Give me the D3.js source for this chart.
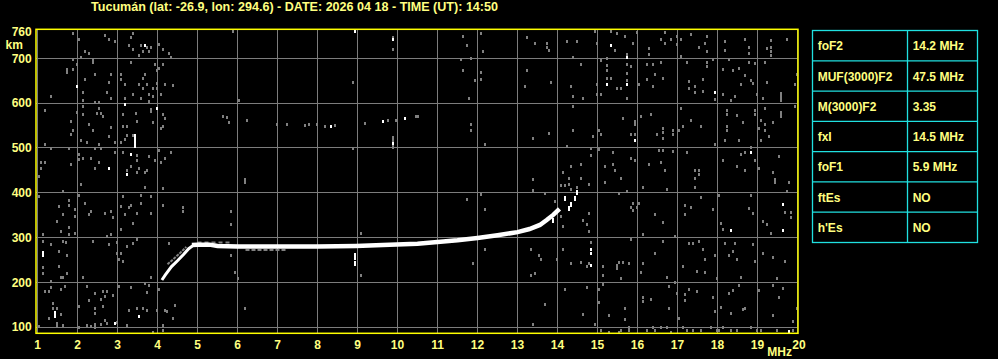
<!DOCTYPE html>
<html><head><meta charset="utf-8">
<script src="https://cdn.jsdelivr.net/npm/d3@7"></script>
<style>html,body{margin:0;padding:0;background:#000;overflow:hidden}svg{display:block}</style>
</head><body><svg id="c" width="998" height="359"></svg>
<script>
// ---------- DATA ----------
const titleText = "Tucumán (lat: -26.9, lon: 294.6) - DATE: 2026 04 18 - TIME (UT): 14:50";
const freqTicks = [1,2,3,4,5,6,7,8,9,10,11,12,13,14,15,16,17,18,19,20];
const heightTicks = [100,200,300,400,500,600,700];
const topHeightLabel = 760;
const freqUnit = "MHz";
const heightUnit = "km";
const freqExtent = [0.9625, 20.0125];
const heightExtent = [86, 765];

const paramNames = ["foF2","MUF(3000)F2","M(3000)F2","fxI","foF1","ftEs","h'Es"];
const paramValues = ["14.2 MHz","47.5 MHz","3.35","14.5 MHz","5.9 MHz","NO","NO"];

// O-trace (white)
const traceRise = [[4.11,205],[4.2,217],[4.35,235],[4.5,248],[4.65,262],[4.78,275],[4.9,283]];
const traceMain = [[4.86,283],[5.0,284],[5.3,284],[5.5,281],[6.0,280],[7.0,280],[8.0,280],[8.96,281],[9.63,283],[10.5,286],[11.0,290],[11.5,294],[12.0,299],[12.5,305],[13.0,312],[13.3,319],[13.56,328],[13.73,339],[13.9,351],[14.05,364]];
const traceDashes = [[13.88,340],[14.18,389],[14.28,366],[14.35,375],[14.43,389],[14.48,402],[8.93,262],[8.93,256],[8.93,243]];
// secondary (grey) echoes
const ghostRise = [[4.25,240],[4.4,252],[4.55,264],[4.72,279]];
const ghostUpper = [[5.0,289],[5.8,289]];
const ghostLower = [[6.2,272],[7.2,272]];

// noise pixels
const noiseGray = [
[1.88,756],[2.03,743],[2.69,752],[2.78,743],[2.94,738],[3.38,756],[3.34,747],[3.28,729],[3.59,729],[3.74,726],[3.84,725],[4.03,732],[4.14,720],[4.29,711],[4.34,703],[3.39,720],[3.54,707],[3.64,716],[3.78,716],[2.19,716],[2.28,711],[2.09,703],[2.38,698],[2.39,692],[1.88,698],[1.98,688],[1.74,677],[1.74,670],[1.88,676],[3.34,692],[3.94,688],[4.14,688],[4.04,679],[3.99,674],[2.19,653],[2.43,665],[2.83,665],[3.08,665],[3.09,655],[3.69,665],[3.64,656],[2.78,647],[3.18,643],[3.54,643],[3.74,643],[3.99,646],[4.18,643],[4.38,640],[2.13,625],[2.73,625],[3.63,634],[3.88,634],[3.98,634],[1.34,616],[2.13,607],[2.44,603],[2.54,603],[2.83,612],[3.38,621],[3.58,612],[3.78,621],[3.78,604],[3.89,616],[4.09,621],[3.18,612],[3.84,587],[1.19,585],[2.13,594],[2.53,590],[2.49,579],[2.58,578],[2.63,572],[1.98,581],[2.13,576],[3.13,576],[3.46,579],[3.83,582],[4.14,576],[4.19,567],[1.83,561],[3.48,561],[3.88,557],[2.29,554],[2.39,539],[2.83,546],[3.13,549],[3.23,549],[4.13,549],[4.08,545],[1.88,540],[1.83,532],[2.78,527],[2.93,514],[3.08,514],[3.18,520],[3.23,530],[3.38,529],[2.08,518],[2.23,514],[2.53,508],[2.43,500],[2.58,500],[1.18,509],[1.33,500],[1.78,500],[2.93,491],[3.13,491],[3.48,484],[3.48,474],[3.78,482],[3.93,474],[4.08,469],[4.18,478],[4.33,490],[4.04,496],[2.03,487],[2.03,475],[2.13,478],[2.33,478],[2.53,469],[2.43,456],[3.23,450],[3.33,460],[3.53,456],[3.68,447],[3.73,451],[3.48,447],[1.08,468],[1.18,469],[1.08,456],[1.83,465],[1.03,438],[6.03,607],[5.63,572],[5.73,569],[5.78,558],[6.23,563],[5.88,761],[6.98,554],[7.23,554],[7.68,551],[7.78,554],[7.98,554],[8.18,549],[8.43,551],[8.88,648],[9.18,555],[9.76,563],[9.96,563],[10.46,572],[9.88,747],[9.89,720],[8.88,500],[6.18,430],
[11.63,750],[11.73,729],[12.08,756],[12.13,716],[11.83,701],[11.58,698],[11.63,674],[12.08,670],[12.08,653],[11.93,652],[11.78,612],[13.23,747],[13.43,734],[13.73,734],[13.73,725],[13.78,719],[13.23,674],[13.18,639],[13.83,648],[14.23,738],[14.48,738],[14.38,703],[14.58,688],[14.33,639],[14.38,616],[14.63,612],[14.93,761],[14.98,734],[15.33,761],[15.48,756],[15.68,750],[15.43,719],[15.23,701],[15.08,697],[15.23,686],[15.23,674],[15.23,656],[15.33,656],[15.48,634],[15.58,634],[14.98,643],[14.98,621],[15.08,621],[15.73,709],[15.73,688],[15.73,668],[15.73,652],[15.83,683],[15.88,734],[15.98,759],[16.03,643],[15.73,612],[16.28,723],[16.28,709],[16.23,688],[16.38,688],[16.43,665],[16.23,653],[16.38,639],[16.63,656],[16.58,692],[16.58,743],[16.68,759],[16.68,734],[16.83,743],[16.98,750],[16.98,732],[17.08,743],[17.08,706],[17.33,755],[17.23,692],[17.28,649],[17.43,639],[17.43,625],[17.28,634],[17.63,653],[17.63,628],[17.53,725],[17.68,734],[17.73,750],[17.73,716],[17.73,692],[17.73,683],[17.88,698],[17.93,609],[18.13,676],[18.13,621],[18.18,738],[18.18,719],[18.28,698],[18.33,607],[18.38,674],[18.43,616],[18.53,679],[18.58,643],[18.68,743],[18.68,662],[18.78,726],[18.78,711],[18.78,692],[18.83,652],[18.88,646],[18.93,689],[18.98,621],[19.13,612],[19.18,692],[19.23,648],[19.23,723],[19.33,741],[19.33,725],[19.33,716],[19.33,707],[19.73,743],[19.93,643],[19.98,665],
[10.51,572],[11.83,554],[11.83,540],[12.18,509],[13.38,523],[13.78,533],[14.38,594],[14.38,540],[14.88,527],[15.03,540],[15.08,532],[15.63,567],[15.93,532],[15.83,532],[16.08,572],[16.33,576],[16.63,545],[16.63,536],[16.48,532],[16.63,523],[16.88,540],[16.88,532],[17.03,540],[17.08,590],[17.13,549],[17.33,563],[17.58,549],[18.23,585],[18.23,576],[18.48,573],[18.23,549],[18.23,540],[18.63,558],[18.93,585],[18.93,576],[19.03,545],[19.08,563],[19.18,590],[19.18,554],[19.18,540],[19.28,527],[19.38,558],[19.93,594],[17.93,509],[18.18,518],[18.53,518],[19.08,518],[18.83,502],[18.68,491],[18.58,487],[18.13,474],[18.48,460],[18.68,451],[18.93,474],[19.03,456],[19.38,447],[19.53,482],[19.43,430],[14.23,505],[14.83,500],[14.83,484],[15.03,497],[15.38,491],[15.83,478],[15.93,474],[16.28,465],[16.53,496],[16.63,496],[16.88,493],[17.23,491],[16.58,469],[16.68,451],[17.43,451],[17.53,451],[17.53,442],[17.43,433],[15.18,460],[15.38,465],[15.43,451],[15.58,433],[14.58,465],[14.33,460],[14.13,447],[14.28,433],[14.58,433],[13.38,430],
[2.08,420],[1.03,392],[1.78,384],[1.78,372],[1.63,404],[2.03,395],[2.18,378],[1.93,364],[1.93,349],[1.53,370],[1.63,352],[1.48,337],[1.58,314],[1.78,323],[1.78,307],[1.93,310],[2.33,359],[2.28,352],[2.68,355],[2.83,359],[2.88,346],[3.13,392],[3.08,370],[3.18,352],[3.28,367],[3.33,372],[3.48,355],[3.58,396],[3.68,413],[3.83,392],[3.83,355],[3.58,377],[3.08,319],[2.83,307],[2.73,304],[3.38,332],[3.48,297],[4.13,411],[4.13,372],[4.63,368],[4.63,359],[5.83,359],[5.83,331],[1.13,307],[1.13,292],[1.33,285],[1.13,234],[1.13,221],[1.63,292],[1.71,289],[2.38,292],[2.78,285],[3.23,280],[3.38,288],[1.53,270],[1.73,262],[1.53,237],[1.73,221],[1.58,212],[1.63,212],[2.13,212],[2.98,265],[3.08,265],[3.03,252],[3.13,247],[4.28,288],[5.83,262],[1.33,203],[1.33,190],[1.18,181],[1.28,181],[1.68,191],[1.58,185],[2.23,191],[2.43,176],[2.63,181],[2.68,169],[2.58,163],[2.73,181],[2.88,172],[3.03,191],[3.33,190],[3.68,198],[3.78,194],[3.73,178],[4.03,184],[3.83,212],[1.38,154],[1.38,143],[1.48,143],[1.58,130],[1.48,109],[1.48,103],[1.63,105],[1.28,121],[2.03,148],[2.28,161],[2.43,143],[2.63,146],[2.43,132],[2.68,116],[2.23,104],[2.43,99],[2.58,106],[2.73,108],[2.98,111],[3.23,104],[3.28,139],[3.48,143],[3.63,142],[3.73,139],[3.98,139],[4.18,139],[4.23,136],[4.43,150],[4.38,121],[4.13,104],[4.13,94],[3.88,90],[2.03,99],[1.03,103],[6.18,143],[9.08,310],[9.08,216],[5.94,224],[6.01,209],[6.18,425],[2.33,103],[2.43,106],
[11.73,387],[12.08,398],[12.18,364],[12.18,274],[11.88,243],[13.33,274],[13.38,405],[13.68,399],[13.53,261],[13.58,252],[13.43,221],[13.33,216],[13.68,152],[13.38,106],[13.93,381],[14.08,417],[14.18,417],[14.08,349],[14.13,326],[14.13,274],[13.98,252],[14.33,243],[14.58,246],[14.18,185],[14.28,420],[14.33,408],[14.48,413],[14.63,340],[14.78,420],[14.78,355],[14.78,314],[14.73,331],[14.83,289],[14.73,237],[14.78,243],[14.73,190],[14.63,130],[15.03,185],[15.03,157],[15.13,236],[15.13,216],[15.13,196],[15.18,425],[15.28,126],[15.48,239],[15.53,245],[15.63,246],[15.78,243],[15.58,209],[15.48,231],[15.73,404],[15.53,399],[15.83,368],[15.88,361],[15.88,378],[15.98,368],[16.03,377],[15.83,297],[16.13,413],[16.13,307],[16.13,243],[16.08,223],[16.13,166],[16.13,158],[15.68,143],[15.68,117],[15.78,99],[16.33,163],[16.43,353],[16.43,265],[16.63,334],[16.63,292],[16.73,408],[16.73,212],[16.78,191],[16.78,143],[16.93,303],[16.93,201],[16.98,175],[17.03,121],[17.13,236],[17.18,372],[17.18,352],[17.18,173],[17.18,161],[17.28,184],[17.28,288],[17.33,368],[17.38,288],[17.48,225],[17.48,181],[17.43,413],[17.53,292],[17.58,390],[17.63,274],[17.68,253],[17.68,223],[17.88,364],[17.88,166],[17.93,261],[17.93,135],[17.98,210],[18.03,395],[18.08,332],[18.08,145],[18.13,319],[18.18,288],[18.28,261],[18.28,175],[18.33,132],[18.38,270],[18.38,182],[18.43,288],[18.48,252],[18.53,194],[18.58,212],[18.63,140],[18.68,143],[18.78,365],[18.88,355],[18.83,396],[18.88,285],[18.93,248],[19.03,182],[19.13,337],[19.13,265],[19.23,331],[19.33,310],[19.38,256],[19.38,194],[19.43,425],[19.48,210],[19.53,166],[19.63,188],[19.68,248],[19.68,358],[19.83,358],[19.83,346],[19.73,404],[19.78,425],[19.98,143],[19.88,114],[19.38,126],[18.83,99],[18.13,99],[18.03,94],
[14.93,106],[15.08,94],[15.28,90],[15.53,90],[15.58,94],[15.78,94],[16.23,94],[16.38,99],[16.43,94],[16.58,99],[16.73,99],[16.83,90],[17.13,99],[17.23,94],[17.38,94],[17.58,94],[17.83,99],[17.98,94],[18.33,94],[18.48,94],[18.98,94],[19.08,94],[19.48,94],[19.88,94]
];
const noiseWhite = [[3.68,730],[1.98,639],[3.18,598],[3.98,590],[3.33,487],[2.78,456],[3.23,442],[8.33,549],[9.63,560],[10.18,567],[9.88,743],[9.88,512],[8.93,761],[15.33,731],[15.23,643],[15.73,703],[15.73,643],[17.93,625],[15.93,518],[18.83,491],[2.93,109],[3.53,124],[14.83,274],[14.83,265],[14.83,239],[18.33,316],[19.63,374],[19.63,316],[19.78,91]];
// vertical streaks: [freq, from km, to km, white?]
const noiseBars = [[3.43,500,532,true],[9.88,497,527,false],[19.58,602,624,false],[19.58,567,582,false],[15.93,549,563,false],[2.98,285,292,false],[1.13,256,270,true],[1.43,121,135,true]];

// ---------- DRAW ----------
const svg = d3.select("#c");
const YEL = "#ffff80", FRAME = "#ffff00", GRID = "#7c7c7c", NOISE = "#808080", CYAN = "#20e0e0";
const FONT = "'Liberation Sans', Arial, sans-serif";

svg.append("rect").attr("width",998).attr("height",359).attr("fill","#000");

const x = d3.scaleLinear().domain(freqExtent).range([36, 798]);
const y = d3.scaleLinear().domain(heightExtent).range([333.3, 29.3]);

// title
svg.append("text").attr("x",294.5).attr("y",10.5).attr("text-anchor","middle")
  .attr("fill",YEL).attr("font-family",FONT).attr("font-weight","bold").attr("font-size","12px")
  .attr("textLength",407).attr("lengthAdjust","spacingAndGlyphs").text(titleText);

// grid
const g = svg.append("g");
g.selectAll("line.v").data(freqTicks).join("line").attr("class","v")
  .attr("x1",d=>Math.round(x(d)-0.5)+0.5).attr("x2",d=>Math.round(x(d)-0.5)+0.5)
  .attr("y1",y(heightExtent[1])).attr("y2",y(heightExtent[0]))
  .attr("stroke",GRID).attr("stroke-width",1);
g.selectAll("line.h").data(heightTicks).join("line").attr("class","h")
  .attr("y1",d=>Math.round(y(d)-0.5)+0.5).attr("y2",d=>Math.round(y(d)-0.5)+0.5)
  .attr("x1",x(freqExtent[0])).attr("x2",x(freqExtent[1]))
  .attr("stroke",GRID).attr("stroke-width",1);

// noise
const nz = svg.append("g").attr("shape-rendering","crispEdges");
nz.selectAll("rect.ng").data(noiseGray).join("rect").attr("class","ng")
  .attr("x",d=>Math.round(x(d[0]))-1).attr("y",d=>Math.round(y(d[1]))-1)
  .attr("width",2).attr("height",3).attr("fill",NOISE);
nz.selectAll("rect.nb").data(noiseBars).join("rect").attr("class","nb")
  .attr("x",d=>Math.round(x(d[0]))-1).attr("y",d=>y(d[2]))
  .attr("width",2).attr("height",d=>y(d[1])-y(d[2])).attr("fill",d=>d[3]?"#fff":NOISE);
nz.selectAll("rect.nw").data(noiseWhite).join("rect").attr("class","nw")
  .attr("x",d=>Math.round(x(d[0]))-1).attr("y",d=>Math.round(y(d[1]))-1)
  .attr("width",2).attr("height",3).attr("fill","#fff");

// traces
const line = d3.line().x(d=>x(d[0])).y(d=>y(d[1]));
svg.append("path").attr("d",line(ghostRise)).attr("fill","none").attr("stroke",NOISE).attr("stroke-width",2).attr("stroke-dasharray","3,1");
svg.append("path").attr("d",line(ghostUpper)).attr("fill","none").attr("stroke",NOISE).attr("stroke-width",2).attr("stroke-dasharray","4,3");
svg.append("path").attr("d",line(ghostLower)).attr("fill","none").attr("stroke",NOISE).attr("stroke-width",2).attr("stroke-dasharray","4,2");
svg.append("path").attr("d",line(traceRise)).attr("fill","none").attr("stroke","#fff").attr("stroke-width",3);
svg.append("path").attr("d",line(traceMain)).attr("fill","none").attr("stroke","#fff").attr("stroke-width",4.5);
svg.append("g").attr("shape-rendering","crispEdges").selectAll("rect").data(traceDashes).join("rect")
  .attr("x",d=>Math.round(x(d[0]))-1).attr("y",d=>Math.round(y(d[1]))-2)
  .attr("width",2).attr("height",5).attr("fill","#fff");

// frame
svg.append("rect").attr("x",x(freqExtent[0])).attr("y",y(heightExtent[1]))
  .attr("width",x(freqExtent[1])-x(freqExtent[0])).attr("height",y(heightExtent[0])-y(heightExtent[1]))
  .attr("fill","none").attr("stroke",FRAME).attr("stroke-width",1.5);

// axis labels
const lab = svg.append("g").attr("fill",YEL).attr("font-family",FONT).attr("font-weight","bold").attr("font-size","12px");
lab.selectAll("text.y").data(heightTicks.concat([topHeightLabel])).join("text").attr("class","y")
  .attr("x",31.7).attr("y",d=>y(d)+4.3).attr("text-anchor","end").text(d=>d);
lab.append("text").attr("x",5.5).attr("y",48.7).text(heightUnit);
lab.selectAll("text.x").data(freqTicks).join("text").attr("class","x")
  .attr("x",d=>x(d)+(d===20?1.5:0)).attr("y",348.5).attr("text-anchor","middle").text(d=>d);
lab.append("text").attr("x",767.3).attr("y",355.7).text(freqUnit);

// parameter table
const rowY = d3.scaleBand().domain(d3.range(paramNames.length)).range([30.5, 242.5]);
const colX = [812.5, 907.5, 977.5];
const tb = svg.append("g");
tb.append("rect").attr("x",colX[0]).attr("y",30.5).attr("width",colX[2]-colX[0]).attr("height",212)
  .attr("fill","#000").attr("stroke",CYAN).attr("stroke-width",1.3);
tb.append("line").attr("x1",colX[1]).attr("x2",colX[1]).attr("y1",30.5).attr("y2",242.5).attr("stroke",CYAN).attr("stroke-width",1.3);
tb.selectAll("line.r").data(d3.range(1,paramNames.length)).join("line").attr("class","r")
  .attr("x1",colX[0]).attr("x2",colX[2]).attr("y1",d=>rowY(d)).attr("y2",d=>rowY(d))
  .attr("stroke",CYAN).attr("stroke-width",1.3);
const tt = tb.append("g").attr("fill",YEL).attr("font-family",FONT).attr("font-weight","bold").attr("font-size","12px");
tt.selectAll("text.n").data(paramNames).join("text").attr("class","n")
  .attr("x",817.7).attr("y",(d,i)=>rowY(i)+rowY.bandwidth()/2+4.6).text(d=>d);
tt.selectAll("text.v").data(paramValues).join("text").attr("class","v")
  .attr("x",912.7).attr("y",(d,i)=>rowY(i)+rowY.bandwidth()/2+4.6).text(d=>d);
</script>
</body></html>
